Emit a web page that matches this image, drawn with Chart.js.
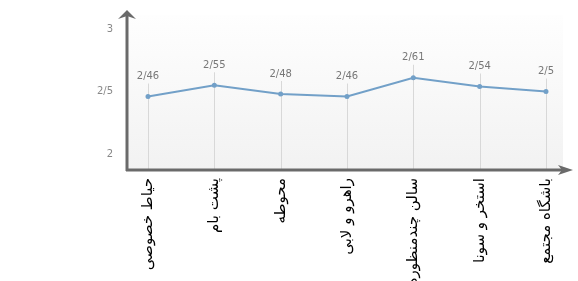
<!DOCTYPE html>
<html>
<head>
<meta charset="utf-8">
<script src="https://cdn.jsdelivr.net/npm/chart.js@4"></script>
<style>
html,body{margin:0;padding:0;background:#fff;}
#wrap{width:578px;height:281px;position:relative;}
</style>
</head>
<body>
<div id="wrap"><canvas id="c" width="578" height="281"></canvas></div>
<script>
const categories = ['حیاط خصوصی','پشت بام','محوطه','راهرو و لابی','سالن چندمنظوره','استخر و سونا','باشگاه مجتمع'];
const values = [2.46, 2.55, 2.48, 2.46, 2.61, 2.54, 2.5];
const yTicks = [2, 2.5, 3];

const fmt = v => String(v).replace('.', '/');

const decor = {
  id: 'decor',
  beforeDatasetsDraw(chart) {
    const ctx = chart.ctx, a = chart.chartArea;
    const axX = a.left - 21, axY = a.bottom;
    ctx.save();
    const g = ctx.createLinearGradient(0, 15, 0, axY);
    g.addColorStop(0, '#fefefe');
    g.addColorStop(1, '#f2f2f2');
    ctx.fillStyle = g;
    ctx.fillRect(axX, 15, 563 - axX, axY - 15);
    const meta = chart.getDatasetMeta(0);
    ctx.strokeStyle = '#d8d8d8';
    ctx.lineWidth = 1;
    meta.data.forEach(p => {
      ctx.beginPath();
      ctx.moveTo(Math.round(p.x) + 0.5, p.y - 13);
      ctx.lineTo(Math.round(p.x) + 0.5, axY);
      ctx.stroke();
    });
    ctx.restore();
  },
  afterDatasetsDraw(chart) {
    const ctx = chart.ctx, a = chart.chartArea;
    const axX = a.left - 21, axY = a.bottom;
    ctx.save();
    const meta = chart.getDatasetMeta(0);
    ctx.fillStyle = '#777';
    ctx.font = '10px "DejaVu Sans"';
    ctx.textAlign = 'center';
    ctx.textBaseline = 'middle';
    meta.data.forEach((p, i) => {
      ctx.fillText(fmt(values[i]), p.x, p.y - 20);
    });
    ctx.strokeStyle = '#6a6a6a';
    ctx.fillStyle = '#6a6a6a';
    ctx.lineWidth = 3;
    ctx.beginPath();
    ctx.moveTo(axX, axY + 1);
    ctx.lineTo(axX, 16);
    ctx.stroke();
    ctx.beginPath();
    ctx.moveTo(axX - 1, axY);
    ctx.lineTo(562, axY);
    ctx.stroke();
    ctx.beginPath();
    ctx.moveTo(axX, 10);
    ctx.lineTo(axX - 9, 19);
    ctx.lineTo(axX, 16);
    ctx.lineTo(axX + 9, 19);
    ctx.closePath();
    ctx.fill();
    ctx.beginPath();
    ctx.moveTo(573, axY);
    ctx.lineTo(558, axY - 5);
    ctx.lineTo(562, axY);
    ctx.lineTo(558, axY + 5);
    ctx.closePath();
    ctx.fill();
    ctx.restore();
  }
};

new Chart(document.getElementById('c'), {
  type: 'line',
  data: {
    labels: categories,
    datasets: [{
      data: values,
      borderColor: '#72a0c8',
      backgroundColor: '#72a0c8',
      borderWidth: 2,
      pointRadius: 1.5,
      pointHoverRadius: 1.5,
      tension: 0
    }]
  },
  options: {
    responsive: false,
    animation: false,
    events: [],
    layout: { padding: { top: 29, right: 32, left: 0, bottom: 0 } },
    plugins: { legend: { display: false }, tooltip: { enabled: false } },
    scales: {
      x: {
        type: 'category',
        offset: false,
        grid: { display: false, drawTicks: false },
        border: { display: false },
        ticks: {
          autoSkip: false,
          minRotation: 90,
          maxRotation: 90,
          padding: 8,
          color: '#000',
          font: { family: '"DejaVu Sans"', size: 15 }
        },
        afterFit: s => { s.height = 111; }
      },
      y: {
        min: 2 - 16 / 125,
        max: 3,
        afterBuildTicks: s => { s.ticks = yTicks.map(v => ({ value: v })); },
        grid: { display: true, drawOnChartArea: false, drawTicks: true, tickLength: 35, color: 'rgba(0,0,0,0)' },
        border: { display: false },
        ticks: {
          padding: 0,
          color: '#888',
          font: { family: '"DejaVu Sans"', size: 10 },
          callback: v => fmt(v)
        },
        afterFit: s => { s.width = 148; }
      }
    }
  },
  plugins: [decor]
});
</script>
</body>
</html>
